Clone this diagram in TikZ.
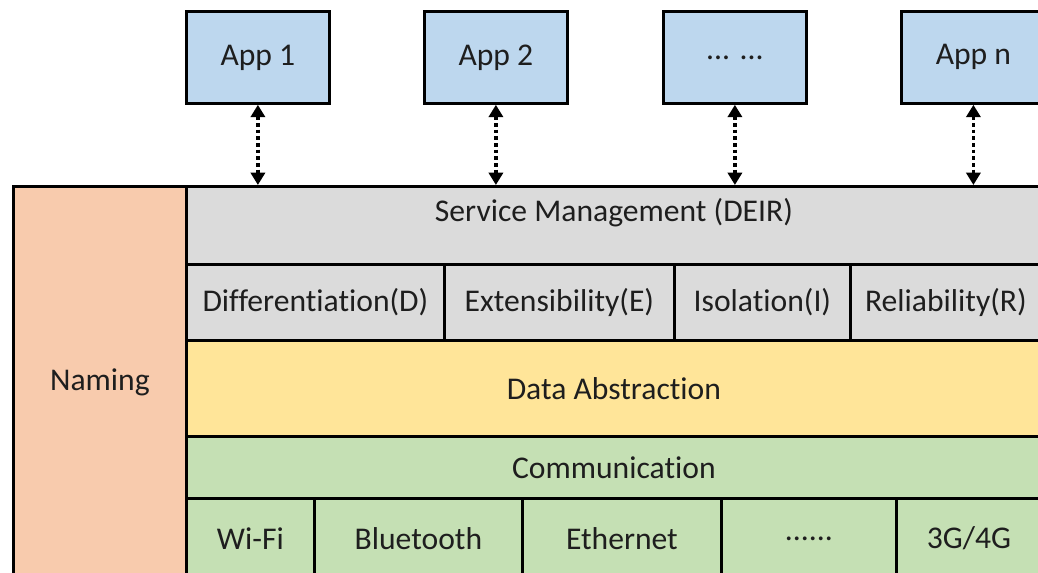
\documentclass[tikz,border=0pt]{standalone}
\usepackage{fontspec}
\setmainfont{Carlito}[Ligatures=NoCommon]
\usepackage{xcolor}
\usetikzlibrary{arrows.meta}

\begin{document}
\begin{tikzpicture}[x=0.02cm, y=-0.02cm]
    \definecolor{appblue}{RGB}{189,215,238}
    \definecolor{namepeach}{RGB}{248,203,173}
    \definecolor{svcgrey}{RGB}{219,219,219}
    \definecolor{datayellow}{RGB}{255,229,153}
    \definecolor{comgreen}{RGB}{197,224,180}
    \definecolor{txtdark}{RGB}{30,30,30}

    \tikzstyle{cell}=[rectangle,draw,line width=1.6pt,inner sep=0pt,anchor=north west,
        text=txtdark,font=\fontsize{18pt}{21pt}\selectfont]  % every box of the stack
    \tikzstyle{app}=[cell,fill=appblue,minimum width=143*0.02cm,minimum height=92*0.02cm]
    \tikzstyle{link}=[line width=2pt,dash pattern=on 2pt off 1.8pt,
        {Triangle[length=7pt,width=8pt]}-{Triangle[length=7pt,width=8pt]}]

    % frame of the picture (the stack is cut at right and bottom)
    \useasboundingbox (0,0) rectangle (1038,573);
    \clip (0,0) rectangle (1038,573);

    % applications
    \node[app](app1) at (185,10){App 1};
    \node[app](app2) at (423,10){App 2};
    \node[app](appdots) at (662,10){... ...};
    \node[app,minimum width=144*0.02cm](appn) at (900,10){App n};

    % left column
    \node[cell,fill=namepeach,minimum width=173*0.02cm,minimum height=392*0.02cm](naming) at (12,185){Naming};

    % service management and its four parts
    \node[cell,fill=svcgrey,minimum width=855*0.02cm,minimum height=78*0.02cm,text depth=18pt](svc) at (185,185){Service Management (DEIR)};
    \node[cell,fill=svcgrey,minimum width=258*0.02cm,minimum height=76*0.02cm](diff) at (185,263){Differentiation(D)};
    \node[cell,fill=svcgrey,minimum width=230*0.02cm,minimum height=76*0.02cm](ext) at (443,263){Extensibility(E)};
    \node[cell,fill=svcgrey,minimum width=176*0.02cm,minimum height=76*0.02cm](iso) at (673,263){Isolation(I)};
    \node[cell,fill=svcgrey,minimum width=191*0.02cm,minimum height=76*0.02cm](rel) at (849,263){Reliability(R)};

    % data layer
    \node[cell,fill=datayellow,minimum width=855*0.02cm,minimum height=96*0.02cm](data) at (185,339){Data Abstraction};

    % communication and the links below it
    \node[cell,fill=comgreen,minimum width=855*0.02cm,minimum height=62*0.02cm](comm) at (185,435){Communication};
    \node[cell,fill=comgreen,minimum width=128*0.02cm,minimum height=80*0.02cm](wifi) at (185,497){Wi-Fi};
    \node[cell,fill=comgreen,minimum width=208*0.02cm,minimum height=80*0.02cm](bt) at (313,497){Bluetooth};
    \node[cell,fill=comgreen,minimum width=199*0.02cm,minimum height=80*0.02cm](eth) at (521,497){Ethernet};
    \node[cell,fill=comgreen,minimum width=175*0.02cm,minimum height=80*0.02cm](more) at (720,497){......};
    \node[cell,fill=comgreen,minimum width=145*0.02cm,minimum height=80*0.02cm](cell34) at (895,497){3G/4G};

    % links between apps and service management
    \draw[link](app1.south) -- (app1.south |- svc.north);
    \draw[link](app2.south) -- (app2.south |- svc.north);
    \draw[link](appdots.south) -- (appdots.south |- svc.north);
    \draw[link](appn.south) -- (appn.south |- svc.north);
\end{tikzpicture}
\end{document}
